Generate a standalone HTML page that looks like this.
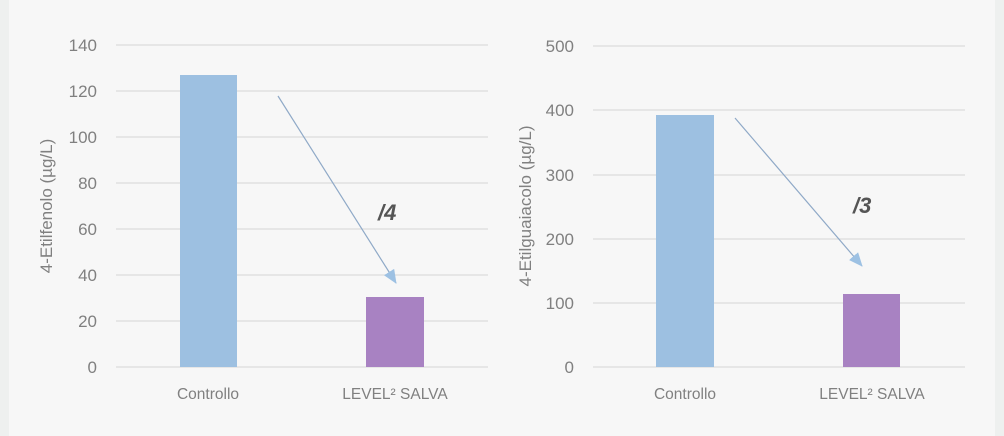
<!DOCTYPE html>
<html><head><meta charset="utf-8"><style>
html,body{margin:0;padding:0;background:#f7f7f7;}
svg{display:block;font-family:"Liberation Sans",sans-serif;}
</style></head><body>
<svg width="1004" height="436" viewBox="0 0 1004 436" xmlns="http://www.w3.org/2000/svg">
<defs>
<marker id="ah" markerWidth="14" markerHeight="12" refX="13" refY="6" orient="auto" markerUnits="userSpaceOnUse">
<path d="M0,0 L14,6 L0,12 Z" fill="#9dc1e3"/></marker>
</defs>
<rect width="1004" height="436" fill="#f7f7f7"/>
<rect x="0" y="0" width="9" height="436" fill="#eef0ef"/>
<rect x="995" y="0" width="9" height="436" fill="#eef0ef"/>
<g stroke="#dcdcdc" stroke-width="1.3">
<line x1="116" x2="488" y1="45" y2="45"/><line x1="116" x2="488" y1="91" y2="91"/>
<line x1="116" x2="488" y1="137" y2="137"/><line x1="116" x2="488" y1="183" y2="183"/>
<line x1="116" x2="488" y1="229" y2="229"/><line x1="116" x2="488" y1="275" y2="275"/>
<line x1="116" x2="488" y1="321" y2="321"/><line x1="116" x2="488" y1="367" y2="367"/>
<line x1="593" x2="965" y1="46" y2="46"/><line x1="593" x2="965" y1="110" y2="110"/>
<line x1="593" x2="965" y1="175" y2="175"/><line x1="593" x2="965" y1="239" y2="239"/>
<line x1="593" x2="965" y1="303" y2="303"/><line x1="593" x2="965" y1="367" y2="367"/>
</g>
<g fill="#808080" font-size="17" text-anchor="end">
<text x="97" y="51">140</text><text x="97" y="97">120</text><text x="97" y="143">100</text>
<text x="97" y="189">80</text><text x="97" y="235">60</text><text x="97" y="281">40</text>
<text x="97" y="327">20</text><text x="97" y="373">0</text>
<text x="574" y="52">500</text><text x="574" y="116">400</text><text x="574" y="181">300</text>
<text x="574" y="245">200</text><text x="574" y="309">100</text><text x="574" y="373">0</text>
</g>
<text transform="translate(52,206) rotate(-90)" fill="#808080" font-size="17" text-anchor="middle">4-Etilfenolo (µg/L)</text>
<text transform="translate(531,206) rotate(-90)" fill="#808080" font-size="17" text-anchor="middle">4-Etilguaiacolo (µg/L)</text>
<rect x="180" y="75" width="57" height="292" fill="#9dc0e1"/>
<rect x="366" y="297" width="58" height="70" fill="#a882c2"/>
<rect x="656" y="115" width="58" height="252" fill="#9dc0e1"/>
<rect x="843" y="294" width="57" height="73" fill="#a882c2"/>
<g fill="#808080" font-size="15.5" text-anchor="middle">
<text x="208" y="399">Controllo</text><text x="395" y="399">LEVEL² SALVA</text>
<text x="685" y="399">Controllo</text><text x="872" y="399">LEVEL² SALVA</text>
</g>
<line x1="278" y1="96" x2="396" y2="283" stroke="#8fa9c7" stroke-width="1.2" marker-end="url(#ah)"/>
<line x1="735" y1="118" x2="862" y2="266" stroke="#8fa9c7" stroke-width="1.2" marker-end="url(#ah)"/>
<g fill="#555" font-size="22" font-weight="bold" font-style="italic">
<text x="378" y="220">/4</text><text x="853" y="213">/3</text>
</g>
</svg>
</body></html>
